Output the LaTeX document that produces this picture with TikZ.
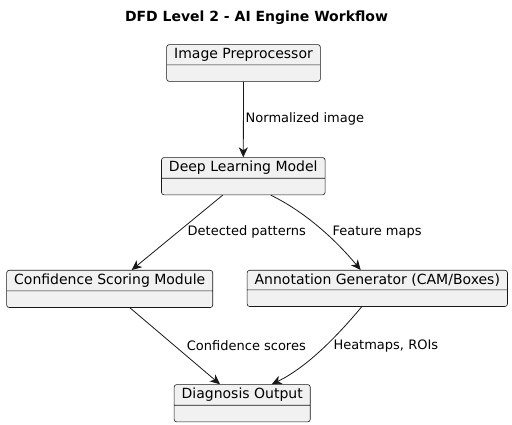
\documentclass[tikz,border=0pt]{standalone}
\usepackage{fontspec}
\setmainfont{DejaVu Sans}
\usepackage{tikz}
\usetikzlibrary{arrows.meta,shapes.multipart}
\definecolor{boxfill}{HTML}{F1F1F1}
\definecolor{ink}{HTML}{181818}

\begin{document}
\begin{tikzpicture}[
            x=1pt, y=-1pt,
            >={Stealth[length=10pt,width=9pt,inset=3pt]},
            ent/.style={
                    draw=ink, fill=boxfill, line width=0.6pt, rounded corners=2.5pt,
                    rectangle split, rectangle split parts=2,
                    rectangle split empty part height=9.5pt,
                    rectangle split empty part depth=0pt,
                    inner xsep=7.5pt, inner ysep=3.25pt,
                    font=\fontsize{14}{16}\selectfont, anchor=north
                },
            arr/.style={->, ink, line width=0.8pt},
            lbl/.style={font=\fontsize{13}{15}\selectfont, anchor=west, inner sep=0pt},
            ]
            \useasboundingbox (0,0) rectangle (512,425);

            \node[font=\bfseries\fontsize{14}{16}\selectfont] (title) at (256.5,18) {DFD Level 2 - AI Engine Workflow};

            % processes, top to bottom
            \node[ent] (pre) at (243.5,44.3) {Image Preprocessor};
            \node[ent] (dlm) at (243.3,157.3) {Deep Learning Model};
            \node[ent] (conf) at (109.7,270) {Confidence Scoring Module};
            \node[ent] (annot) at (377.3,270) {Annotation Generator (CAM/Boxes)};
            \node[ent] (diag) at (242.2,384.3) {Diagnosis Output};

            \draw[arr] (pre.south) -- (dlm.north);
            \draw[arr] ([xshift=-20.6pt]dlm.south) -- ([xshift=22pt]conf.north);
            \draw[arr] ([xshift=27.4pt]dlm.south) .. controls +(35,17) and +(-25,-30) .. ([xshift=-16.6pt]annot.north);
            \draw[arr] ([xshift=20.3pt]conf.south) -- ([xshift=-22.2pt]diag.north);
            \draw[arr] ([xshift=-15.6pt]annot.south) .. controls +(-25,30) and +(35,-17) .. ([xshift=29.5pt]diag.north);

            \node[lbl] (lnorm) at (245.5,119.3) {Normalized image};
            \node[lbl] (ldet) at (187.5,232.3) {Detected patterns};
            \node[lbl] (lfeat) at (332.5,232.3) {Feature maps};
            \node[lbl] (lconf) at (186.7,345.7) {Confidence scores};
            \node[lbl] (lheat) at (333.3,345.7) {Heatmaps, ROIs};
        \end{tikzpicture}
\end{document}
